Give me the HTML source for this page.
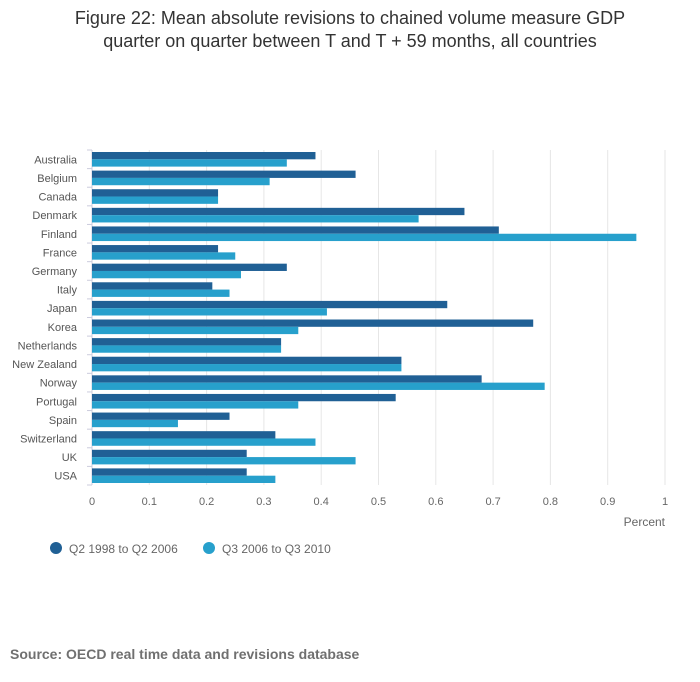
<!DOCTYPE html>
<html><head><meta charset="utf-8"><style>
body{margin:0;background:#fff;font-family:"Liberation Sans",sans-serif;}
#wrap{position:relative;width:700px;height:682px;}
h1{position:absolute;top:7px;left:0;width:700px;margin:0;text-align:center;font-weight:normal;font-size:18px;line-height:23px;color:#333;}
#src{position:absolute;left:10px;top:646px;font-size:14px;font-weight:bold;color:#707070;}
</style></head><body><div id="wrap">
<h1>Figure 22: Mean absolute revisions to chained volume measure GDP<br>quarter on quarter between T and T + 59 months, all countries</h1>
<svg id="c" width="700" height="682" style="position:absolute;left:0;top:0"></svg>
<div id="src">Source: OECD real time data and revisions database</div>
</div>
<script>
const categories=["Australia","Belgium","Canada","Denmark","Finland","France","Germany","Italy","Japan","Korea","Netherlands","New Zealand","Norway","Portugal","Spain","Switzerland","UK","USA"];
const series1=[0.39,0.46,0.22,0.65,0.71,0.22,0.34,0.21,0.62,0.77,0.33,0.54,0.68,0.53,0.24,0.32,0.27,0.27];
const series2=[0.34,0.31,0.22,0.57,0.95,0.25,0.26,0.24,0.41,0.36,0.33,0.54,0.79,0.36,0.15,0.39,0.46,0.32];
const ticks=[0,0.1,0.2,0.3,0.4,0.5,0.6,0.7,0.8,0.9,1];
const seriesNames=["Q2 1998 to Q2 2006","Q3 2006 to Q3 2010"];
const colors=["#206095","#27a0cc"];
const svg=document.getElementById('c');const NS="http://www.w3.org/2000/svg";
const x0=92,x1=665,y0=150,y1=485;
const xs=v=>x0+(x1-x0)*v;
const band=(y1-y0)/categories.length;
const ys=i=>y0+band*i;
function mk(t,a,txt){const e=document.createElementNS(NS,t);for(const k in a)e.setAttribute(k,a[k]);if(txt!==undefined)e.textContent=txt;svg.appendChild(e);return e;}
ticks.forEach(t=>{
 const g=mk('line',{x1:xs(t),x2:xs(t),y1:y0,y2:y1,stroke:t===0?'#ccd':'#e6e6e6','stroke-width':1});
 
 const l=mk('text',{x:xs(t),y:505,'text-anchor':'middle','font-size':11,fill:'#666'},String(t));
 
});
const at=mk('text',{x:665,y:526,'text-anchor':'end','font-size':12,fill:'#666'},'Percent');

for(let i=0;i<=categories.length;i++){const tk=mk('line',{x1:87,x2:92,y1:ys(i),y2:ys(i),stroke:'#ccd'});}
categories.forEach((c,i)=>{
 const top=ys(i)+2,h=(band-4)/2;
 const b1=mk('rect',{x:x0,y:top,width:xs(series1[i])-x0,height:h,fill:colors[0]});
 
 const b2=mk('rect',{x:x0,y:top+h,width:xs(series2[i])-x0,height:h,fill:colors[1]});
 
 const l=mk('text',{x:77,y:ys(i)+band/2+4,'text-anchor':'end','font-size':11,fill:'#555'},c);
 
});
[[56,seriesNames[0]],[209,seriesNames[1]]].forEach((s,k)=>{
 const d=mk('circle',{cx:s[0],cy:548,r:6,fill:colors[k]});
 const t=mk('text',{x:s[0]+13,y:553,'font-size':12,fill:'#666'},s[1]);
});
</script></body></html>
